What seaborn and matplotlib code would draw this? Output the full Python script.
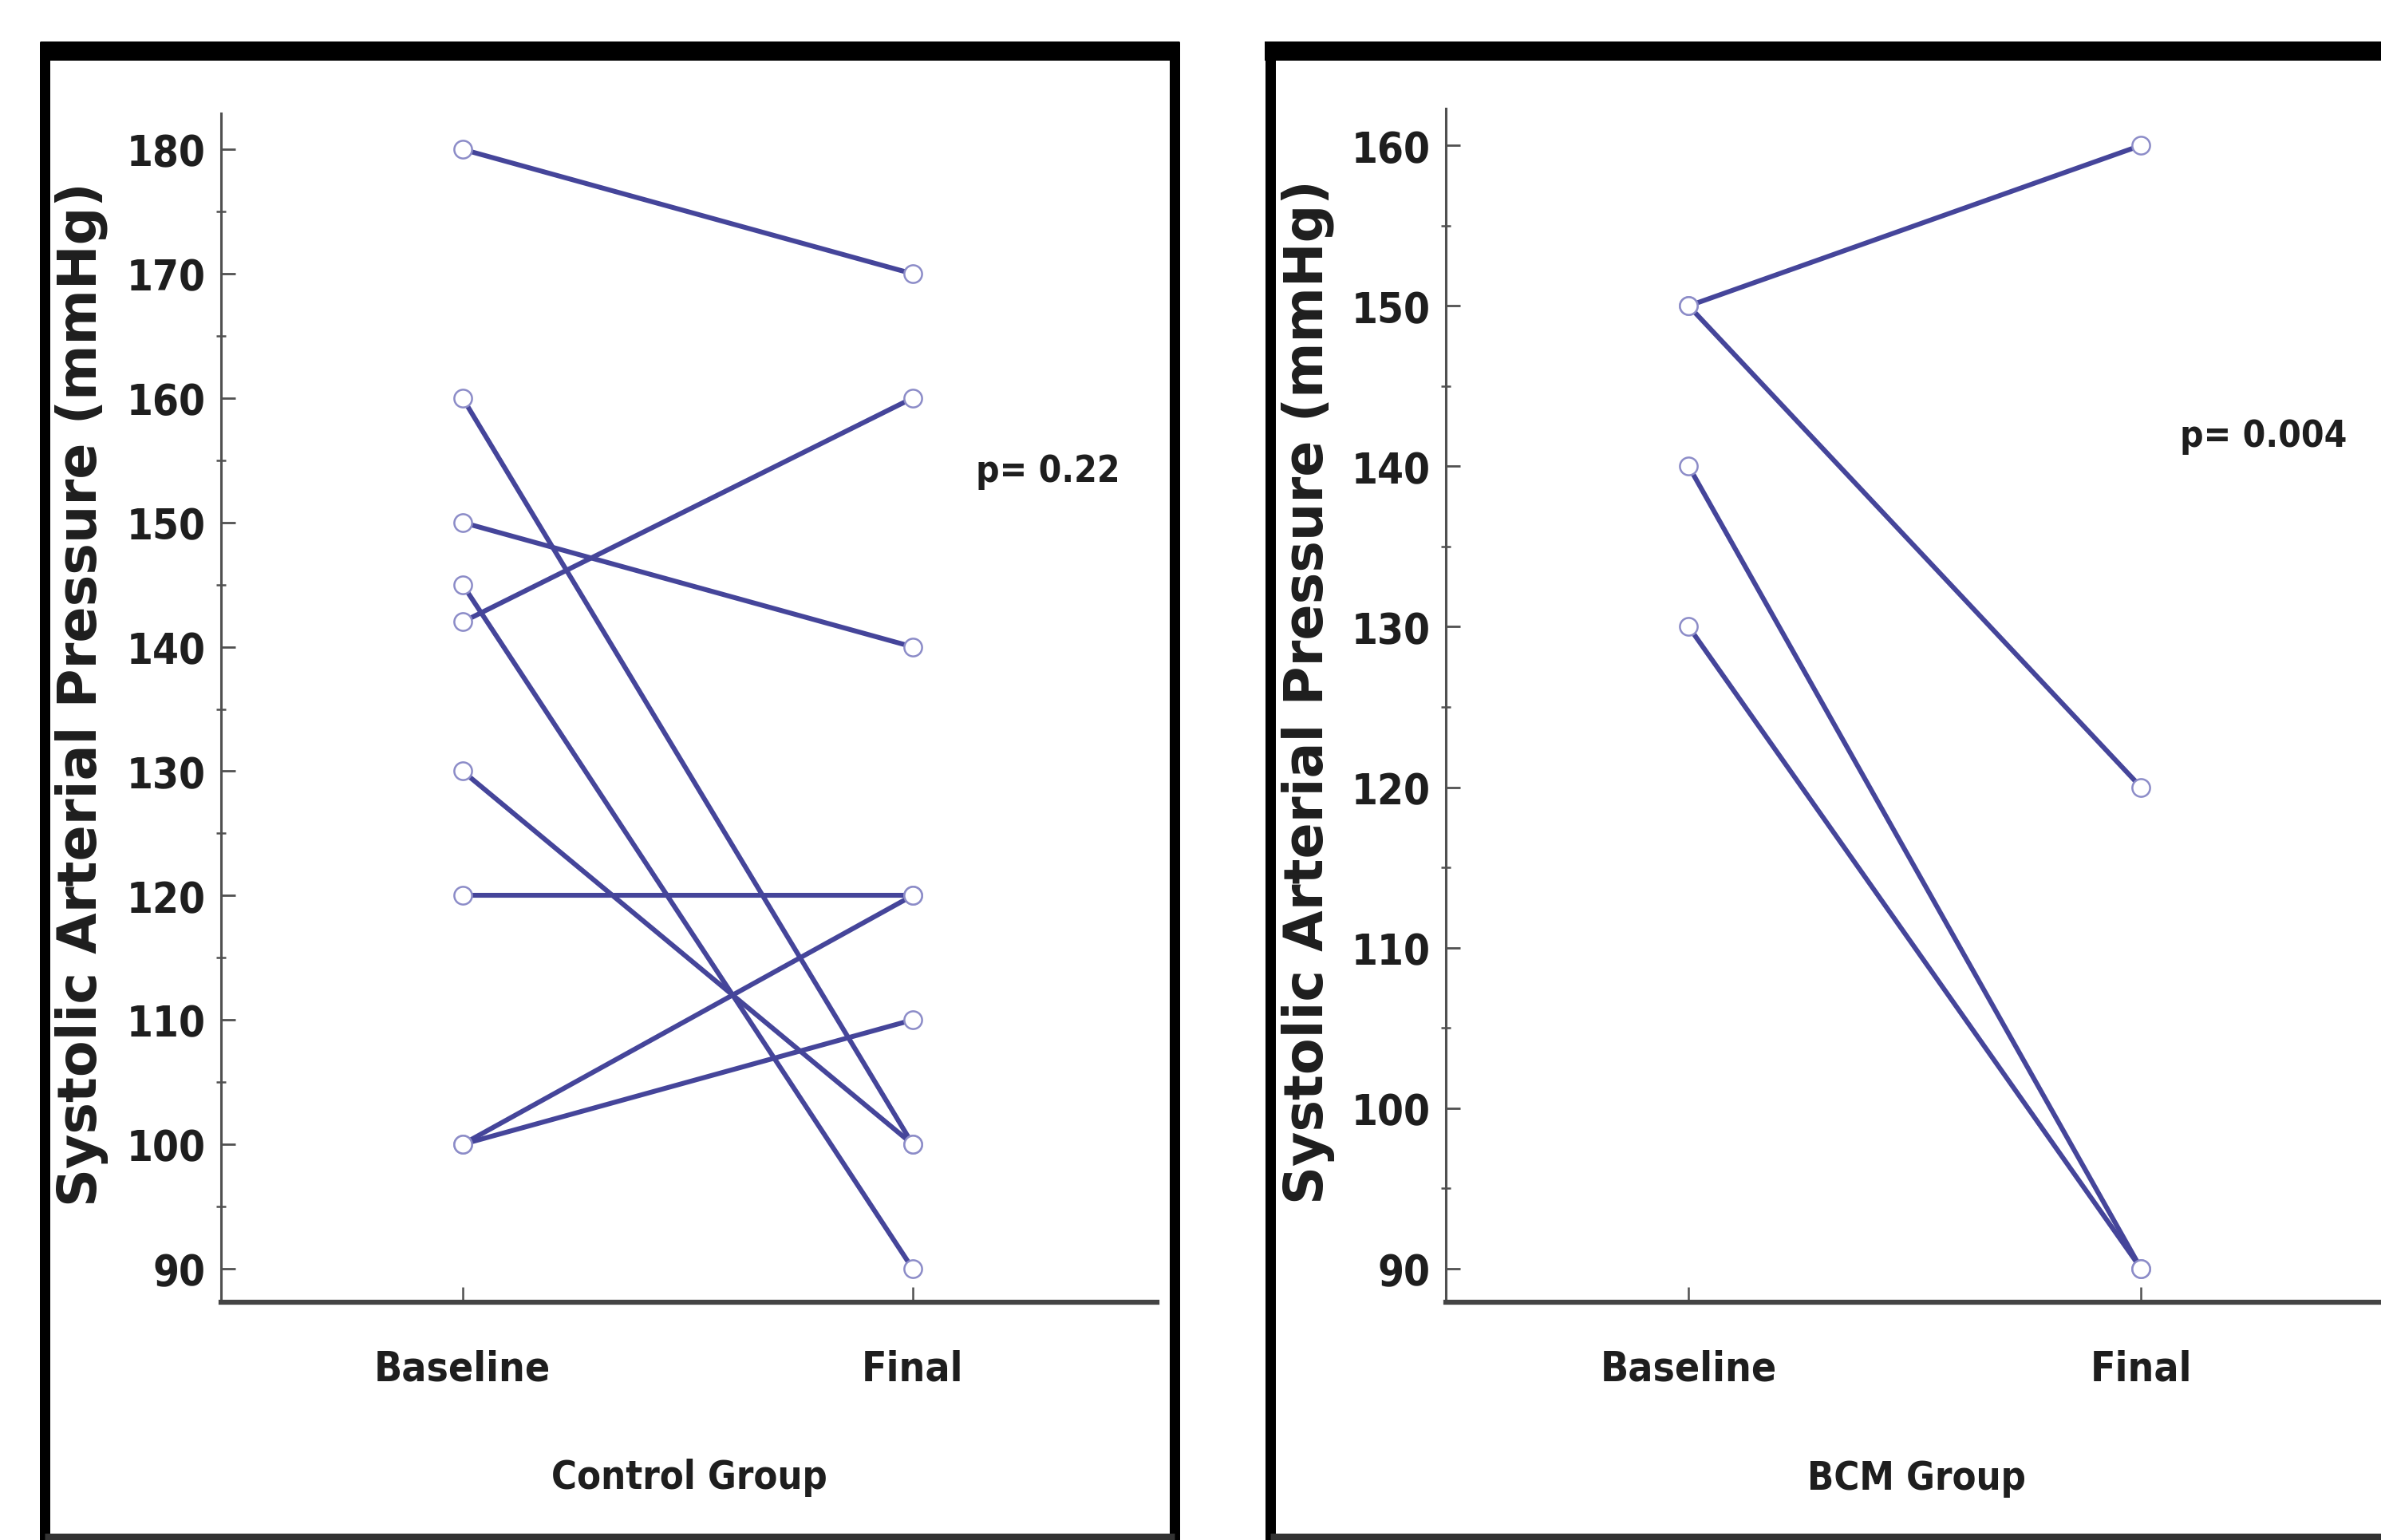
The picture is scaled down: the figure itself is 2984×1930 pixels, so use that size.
import matplotlib
matplotlib.use("Agg")
import matplotlib.pyplot as plt
from matplotlib.lines import Line2D
from matplotlib.ticker import MultipleLocator
import seaborn as sns
import pandas as pd

# ---------------- data ----------------
time_labels = ["Baseline", "Final"]

control_baseline = [180, 160, 150, 145, 142, 130, 120, 100, 100]
control_final    = [170, 100, 140,  90, 160, 100, 120, 120, 110]

bcm_baseline = [150, 150, 140, 130]
bcm_final    = [160, 120,  90,  90]

control_yticks = [90, 100, 110, 120, 130, 140, 150, 160, 170, 180]
bcm_yticks = [90, 100, 110, 120, 130, 140, 150, 160]

group_names = ["Control Group", "BCM Group"]
p_texts = ["p= 0.22", "p= 0.004"]
ylabel_text = "Systolic Arterial Pressure (mmHg)"


def long_frame(base, final):
    rows = []
    for i, (b, f) in enumerate(zip(base, final)):
        rows.append({"subject": i, "pos": 0, "sbp": b})
        rows.append({"subject": i, "pos": 1, "sbp": f})
    return pd.DataFrame(rows)


df_control = long_frame(control_baseline, control_final)
df_bcm = long_frame(bcm_baseline, bcm_final)

# ---------------- style ----------------
sns.set_theme(style="white")
plt.rcParams["font.family"] = ["DejaVu Sans"]

W, H = 2984, 1931
fig = plt.figure(figsize=(W / 100, H / 100), dpi=100)
fig.patch.set_facecolor("white")

LINE_C = "#45459a"
MARK_EC = "#8c8cc8"
SPINE_C = "#505050"
TXT_C = "#1e1e1e"
COND = "condensed"

ax1 = fig.add_axes([277 / W, 1 - 1633 / H, 1173 / W, (1633 - 143) / H])
ax2 = fig.add_axes([1812 / W, 1 - 1633 / H, 1179 / W, (1633 - 137) / H])

panels = [
    (ax1, df_control, control_yticks, (87.3, 182.9), (1.30, 154.1)),
    (ax2, df_bcm, bcm_yticks, (87.9, 162.3), (1.27, 141.9)),
]

for k, (ax, df, yt, ylim, ptxt) in enumerate(panels):
    sns.lineplot(data=df, x="pos", y="sbp", units="subject", estimator=None,
                 color=LINE_C, lw=4.4, marker="o", markersize=16,
                 markerfacecolor="white", markeredgecolor=MARK_EC,
                 markeredgewidth=1.8, ax=ax, legend=False, clip_on=False)
    ax.set_xlim(-0.537, 1.543)
    ax.set_ylim(*ylim)
    ax.set_xticks([0, 1])
    ax.set_xticklabels(time_labels)
    ax.set_yticks(yt)
    ax.set_yticklabels([str(v) for v in yt])
    ax.yaxis.set_minor_locator(MultipleLocator(5))
    ax.set_facecolor("white")
    for s in ["top", "right"]:
        ax.spines[s].set_visible(False)
    ax.spines["left"].set_color(SPINE_C)
    ax.spines["left"].set_linewidth(2.2)
    ax.spines["bottom"].set_color("#444444")
    ax.spines["bottom"].set_linewidth(4.5)
    ax.tick_params(axis="y", which="major", direction="in", length=13,
                   width=2, color=SPINE_C, pad=14, labelsize=38,
                   labelcolor=TXT_C, left=True)
    ax.tick_params(axis="y", which="minor", direction="inout", length=9,
                   width=1.8, color=SPINE_C, left=True)
    ax.tick_params(axis="x", which="major", direction="in", length=14,
                   width=1.8, color=SPINE_C, pad=42, labelsize=37,
                   labelcolor=TXT_C, bottom=True)
    for lab in ax.get_xticklabels() + ax.get_yticklabels():
        lab.set_fontweight("bold")
        lab.set_fontstretch(COND)
    ax.set_xlabel(group_names[k], fontsize=35, fontweight="bold",
                  fontstretch=COND, color=TXT_C)
    ax.set_ylabel(ylabel_text, fontsize=48, fontweight="bold", color=TXT_C)
    ax.text(ptxt[0], ptxt[1], p_texts[k], fontsize=33, fontweight="bold",
            fontstretch=COND, color=TXT_C, ha="center", va="center")

ax1.yaxis.set_label_coords(-0.120, 0.512)
ax2.yaxis.set_label_coords(-0.118, 0.512)
ax1.xaxis.set_label_coords(0.5, -0.131)
ax2.xaxis.set_label_coords(0.5, -0.131)

# ---------------- panel frames ----------------
def fx(x):
    return x / W


def fy(y):
    return 1 - y / H


def frame(x0, x1, right=True):
    px = 72 / 100
    fig.add_artist(Line2D([fx(x0 - 6), fx(min(x1 + 6, W + 20))], [fy(65), fy(65)],
                          color="black", lw=24 * px, solid_capstyle="butt"))
    fig.add_artist(Line2D([fx(x0), fx(x0)], [fy(53), fy(H + 10)],
                          color="black", lw=13 * px, solid_capstyle="butt"))
    if right:
        fig.add_artist(Line2D([fx(x1), fx(x1)], [fy(53), fy(H + 10)],
                              color="black", lw=13 * px, solid_capstyle="butt"))
    fig.add_artist(Line2D([fx(x0), fx(min(x1, W + 20))], [fy(1927), fy(1927)],
                          color="#333333", lw=9 * px, solid_capstyle="butt"))


frame(56.5, 1471.5, right=True)
frame(1591.5, W + 20, right=False)

fig.savefig("out.png", dpi=100, facecolor="white")
